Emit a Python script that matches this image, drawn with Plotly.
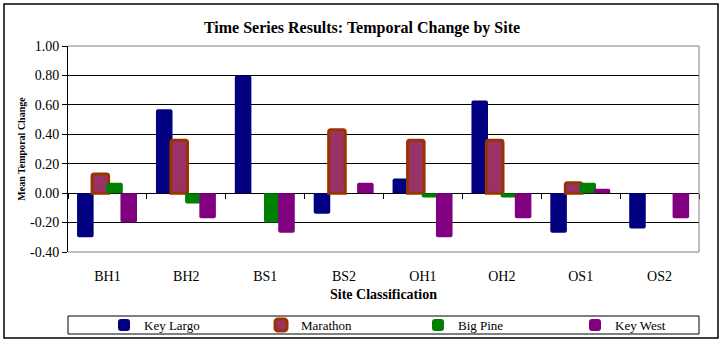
import plotly.graph_objects as go

# ---- data ----
sites = ["BH1", "BH2", "BS1", "BS2", "OH1", "OH2", "OS1", "OS2"]
key_largo = [-0.30, 0.57, 0.80, -0.14, 0.10, 0.63, -0.27, -0.24]
marathon = [0.13, 0.36, None, 0.43, 0.36, 0.36, 0.07, None]
big_pine = [0.07, -0.07, -0.20, None, -0.03, -0.03, 0.07, None]
key_west = [-0.20, -0.17, -0.27, 0.07, -0.30, -0.17, 0.03, -0.17]
series_names = ["Key Largo", "Marathon", "Big Pine", "Key West"]
y_tick_values = [-0.4, -0.2, 0.0, 0.2, 0.4, 0.6, 0.8, 1.0]
y_tick_text = ["-0.40", "-0.20", "0.00", "0.20", "0.40", "0.60", "0.80", "1.00"]

# ---- styles ----
FONT = "Liberation Serif"
fills = ["#000080", "#993366", "#008000", "#800080"]
lines = ["#000080", "#993300", "#008000", "#800080"]
line_w = [0, 3, 0, 0]
centers = [-0.28, -0.09, 0.09, 0.27]
BAR_W = 0.21

fig = go.Figure()
for name, vals, fc, lc, lw, c in zip(series_names, [key_largo, marathon, big_pine, key_west],
                                     fills, lines, line_w, centers):
    fig.add_trace(go.Bar(
        x=sites, y=vals, name=name,
        width=BAR_W, offset=c - BAR_W / 2,
        marker=dict(color=fc, line=dict(color=lc, width=lw), cornerradius=2),
        hoverinfo="x+y+name",
    ))

# helper trace for the tick axis crossing at zero
fig.add_trace(go.Scatter(x=sites, y=[None] * len(sites), xaxis="x2", yaxis="y",
                         showlegend=False, hoverinfo="skip", mode="markers"))

fig.update_layout(
    width=724, height=343,
    margin=dict(l=68, r=25, t=46, b=91, autoexpand=False),
    paper_bgcolor="white", plot_bgcolor="white",
    barmode="overlay",
    font=dict(family=FONT, color="black", size=14),
    title=dict(text="<b>Time Series Results: Temporal Change by Site</b>",
               font=dict(family=FONT, size=16, color="black"),
               x=0.5, xref="container", xanchor="center",
               y=1 - 27 / 343, yref="container", yanchor="middle"),
    xaxis=dict(type="category", categoryorder="array", categoryarray=sites,
               range=[-0.5, 7.5], showgrid=False, showline=False, ticks="",
               ticklabelstandoff=14, tickfont=dict(size=14), automargin=False,
               title=dict(text="<b>Site Classification</b>", font=dict(size=14), standoff=6)),
    xaxis2=dict(type="category", categoryorder="array", categoryarray=sites,
                range=[-0.5, 7.5], overlaying="x", anchor="free",
                position=(0 - (-0.4)) / 1.4, showgrid=False, showline=False,
                showticklabels=False, ticks="outside", tickson="boundaries",
                ticklen=5, tickcolor="black", tickwidth=1),
    yaxis=dict(range=[-0.4, 1.0], tickvals=y_tick_values, ticktext=y_tick_text,
               showgrid=True, gridcolor="black", gridwidth=1,
               zeroline=True, zerolinecolor="black", zerolinewidth=1,
               showline=True, linecolor="black", linewidth=1,
               ticks="outside", ticklen=5, tickcolor="black",
               tickfont=dict(size=14), automargin=False,
               title=dict(text="<b>Mean Temporal Change</b>", font=dict(size=10), standoff=2)),
    legend=dict(orientation="h", x=(104 - 68) / 631, xanchor="left",
                y=(252 - 325) / 206, yanchor="middle",
                entrywidth=112, entrywidthmode="pixels",
                font=dict(size=13, family=FONT), bgcolor="rgba(0,0,0,0)",
                borderwidth=0, traceorder="normal"),
    showlegend=True,
    shapes=[
        # plot area border (top, right, bottom) in gray
        dict(type="path", xref="paper", yref="paper", path="M0,1 H1 V0 H0",
             line=dict(color="#808080", width=1), layer="above"),
        # legend box
        dict(type="rect", xref="paper", yref="paper",
             x0=0, x1=1, y0=(252 - 334) / 206, y1=(252 - 316) / 206,
             line=dict(color="black", width=1)),
        # outer chart border
        dict(type="rect", xref="paper", yref="paper",
             x0=(4 - 68) / 631, x1=(718 - 68) / 631,
             y0=(252 - 338) / 206, y1=(252 - 4) / 206,
             line=dict(color="black", width=1.5)),
    ],
)

fig.write_html("out.html")
